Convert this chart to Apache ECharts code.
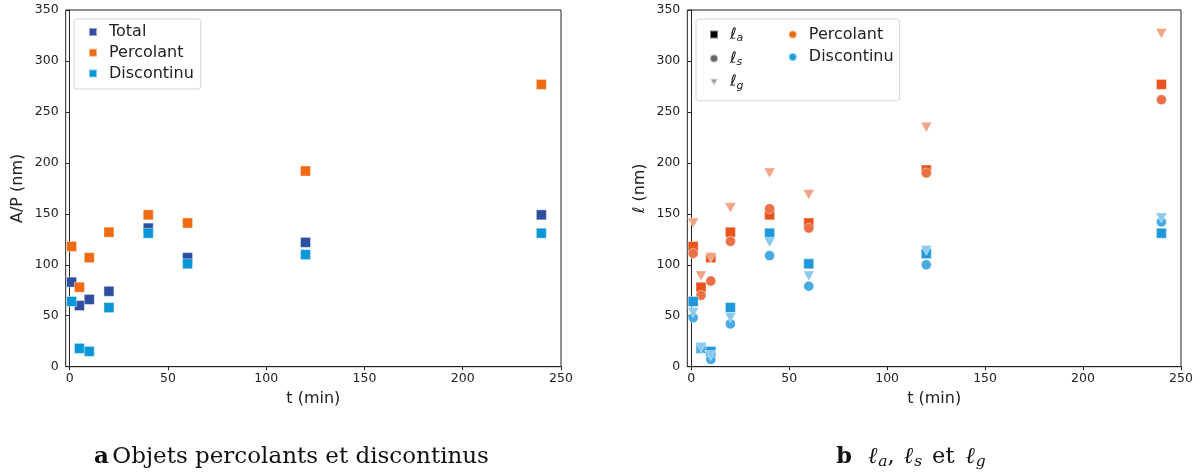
<!DOCTYPE html>
<html>
<head>
<meta charset="utf-8">
<script src="https://cdn.jsdelivr.net/npm/echarts@6/dist/echarts.min.js"></script>
<style>
html,body{margin:0;padding:0;background:#fff;}
#chart{width:1200px;height:475px;}
</style>
</head>
<body>
<div id="chart"></div>
<script>
// ---- data ----
const tValues = [1, 5, 10, 20, 40, 60, 120, 240];
const xTicks = [0, 50, 100, 150, 200, 250];
const yTicks = [0, 50, 100, 150, 200, 250, 300, 350];
// panel a : A/P (nm)
const apTotal      = [83, 60, 66, 74, 136, 107, 122, 149];
const apPercolant  = [118, 78, 107, 132, 149, 141, 192, 277];
const apDiscontinu = [64, 18, 15, 58, 131, 101, 110, 131];
// panel b : lengths (nm)
const laPercolant  = [118, 78, 107, 132, 149, 141, 193, 277];
const lsPercolant  = [111, 70, 84, 123, 155, 136, 190, 262];
const lgPercolant  = [141, 89, 107, 156, 190, 169, 235, 327];
const laDiscontinu = [64, 18, 15, 58, 131, 101, 111, 131];
const lsDiscontinu = [48, 18, 7, 42, 109, 79, 100, 142];
const lgDiscontinu = [53, 19, 11, 48, 122, 89, 114, 146];

const pts = arr => tValues.map((t, i) => [t, arr[i]]);
const TRI = 'path://M0,0L2,0L1,1.75Z';
const AX = '#222';
const SANS = 'DejaVu Sans';
const SERIF = 'DejaVu Serif';
const PAD = '\u00a0\u00a0\u00a0\u00a0\u00a0\u00a0\u00a0';

function xAxisCfg(gi) {
  return {
    gridIndex: gi, type: 'value', min: -2, max: 250,
    name: 't (min)', nameLocation: 'middle', nameGap: 24,
    nameTextStyle: {fontFamily: SANS, fontSize: 16, color: AX},
    axisLine: {lineStyle: {color: AX, width: 1}},
    axisTick: {length: 3.5, lineStyle: {color: AX}, customValues: xTicks},
    axisLabel: {fontFamily: SANS, fontSize: 12.5, color: AX, margin: 6, customValues: xTicks},
    splitLine: {show: false}
  };
}
function yAxisCfg(gi, name, gap) {
  return {
    gridIndex: gi, type: 'value', min: 0, max: 350, interval: 50,
    name: name, nameLocation: 'middle', nameGap: gap,
    nameTextStyle: {fontFamily: SANS, fontSize: 16, color: AX,
      rich: {i: {fontFamily: SANS, fontSize: 16, fontStyle: 'italic', color: AX}}},
    axisLine: {show: true, lineStyle: {color: AX, width: 1}},
    axisTick: {show: true, length: 3.5, lineStyle: {color: AX}},
    axisLabel: {fontFamily: SANS, fontSize: 12.5, color: AX, margin: 7},
    splitLine: {show: false}
  };
}
function sc(name, gi, data, symbol, size, color) {
  return {
    name: name, type: 'scatter', xAxisIndex: gi, yAxisIndex: gi,
    data: data ? pts(data) : [], symbol: symbol, symbolSize: size,
    itemStyle: {color: color, borderColor: 'rgba(255,255,255,0.5)', borderWidth: 0.8, opacity: 1},
    emphasis: {disabled: true}, silent: true
  };
}

const legendNames = {
  la: '{l|ℓ}{s|a}{e|' + PAD + '}', ls: '{l|ℓ}{s|s}{e|' + PAD + '}', lg: '{l|ℓ}{s|g}{e|' + PAD + '}',
  P2: '{t|Percolant}', D2: '{t|Discontinu}'
};

const chart = echarts.init(document.getElementById('chart'), null, {renderer: 'canvas'});
chart.setOption({
  animation: false,
  backgroundColor: '#fff',
  grid: [
    {left: 65.7, right: 639, top: 10, bottom: 108.3, show: true, borderColor: AX, borderWidth: 1},
    {left: 687.3, right: 19, top: 10, bottom: 108.3, show: true, borderColor: AX, borderWidth: 1}
  ],
  xAxis: [xAxisCfg(0), xAxisCfg(1)],
  yAxis: [yAxisCfg(0, 'A/P (nm)', 40), yAxisCfg(1, '{i|ℓ} (nm)', 39)],
  legend: [
    {
      data: ['Total', 'Percolant', 'Discontinu'],
      orient: 'vertical', left: 74, top: 19,
      itemWidth: 8, itemHeight: 8, itemGap: 4.7,
      padding: [5, 7, 7.6, 14],
      borderColor: '#d6d6d6', borderWidth: 1, borderRadius: 3,
      backgroundColor: 'rgba(255,255,255,0.8)',
      selectedMode: false,
      formatter: n => '{t|' + n + '}',
      textStyle: {fontFamily: SANS, fontSize: 16, color: AX,
        rich: {t: {fontFamily: SANS, fontSize: 16, color: AX, padding: [0, 0, 0, 7]}}}
    },
    {
      data: ['la', 'ls', 'lg', 'P2', 'D2'],
      orient: 'vertical', left: 696, top: 19, height: 75,
      itemWidth: 8, itemHeight: 8, itemGap: 6.4,
      padding: [7, 6, 9.5, 13],
      borderColor: '#d6d6d6', borderWidth: 1, borderRadius: 3,
      backgroundColor: 'rgba(255,255,255,0.8)',
      selectedMode: false,
      formatter: n => legendNames[n],
      textStyle: {fontFamily: SANS, fontSize: 16, color: AX,
        rich: {
          t: {fontFamily: SANS, fontSize: 16, color: AX, padding: [0, 0, 0, 7]},
          l: {fontFamily: SANS, fontSize: 16, fontStyle: 'italic', color: AX, padding: [0, 0, 0, 7]},
          s: {fontFamily: SANS, fontSize: 11, fontStyle: 'italic', color: AX, padding: [7, 0, 0, 0]},
          e: {fontFamily: SANS, fontSize: 17, color: AX}
        }}
    }
  ],
  series: [
    sc('Total', 0, apTotal, 'rect', 10, '#2e4f9f'),
    sc('Percolant', 0, apPercolant, 'rect', 10, '#ef6a10'),
    sc('Discontinu', 0, apDiscontinu, 'rect', 10, '#0a97d8'),
    sc('laP', 1, laPercolant, 'rect', 10, '#e8541c'),
    sc('lsP', 1, lsPercolant, 'circle', 10, '#ec7045'),
    sc('lgP', 1, lgPercolant, TRI, [11, 10], '#f2a386'),
    sc('laD', 1, laDiscontinu, 'rect', 10, '#1f97dc'),
    sc('lsD', 1, lsDiscontinu, 'circle', 10, '#47aae3'),
    sc('lgD', 1, lgDiscontinu, TRI, [11, 10], '#8acaee'),
    sc('la', 1, null, 'rect', 8, '#000000'),
    sc('ls', 1, null, 'circle', 8, '#666666'),
    sc('lg', 1, null, TRI, 9, '#999999'),
    sc('P2', 1, null, 'circle', 8, '#ef6a10'),
    sc('D2', 1, null, 'circle', 8, '#1a9ad9')
  ],
  graphic: [
    {
      type: 'text', silent: true,
      x: 291.5, y: 457,
      style: {
        x: 0, y: 0,
        text: '{b|a} {r|Objets percolants et discontinus}',
        align: 'center', verticalAlign: 'middle',
        rich: {
          b: {fontFamily: SERIF, fontSize: 23, fontWeight: 'bold', fill: '#111'},
          r: {fontFamily: SERIF, fontSize: 23, fill: '#111'}
        }
      }
    },
    {
      type: 'text', silent: true,
      x: 911, y: 457,
      style: {
        x: 0, y: 0,
        text: '{b|b}{m|ℓ}{s|a}{c|,}{m|ℓ}{s2|s}{r|et}{m|ℓ}{s|g}',
        align: 'center', verticalAlign: 'middle',
        rich: {
          b: {fontFamily: SERIF, fontSize: 22.5, fontWeight: 'bold', fill: '#111', padding: [0, 16, 0, 0]},
          c: {fontFamily: SERIF, fontSize: 22.5, fill: '#111', padding: [0, 9, 0, 0]},
          r: {fontFamily: SERIF, fontSize: 22.5, fill: '#111', padding: [0, 11, 0, 0]},
          m: {fontFamily: SERIF, fontSize: 22.5, fontStyle: 'italic', fill: '#111', padding: [0, 1, 0, 0]},
          s: {fontFamily: SERIF, fontSize: 15.5, fontStyle: 'italic', fill: '#111', padding: [9, 0, 0, 0]},
          s2: {fontFamily: SERIF, fontSize: 15.5, fontStyle: 'italic', fill: '#111', padding: [9, 10, 0, 0]}
        }
      }
    }
  ]
});
</script>
</body>
</html>
